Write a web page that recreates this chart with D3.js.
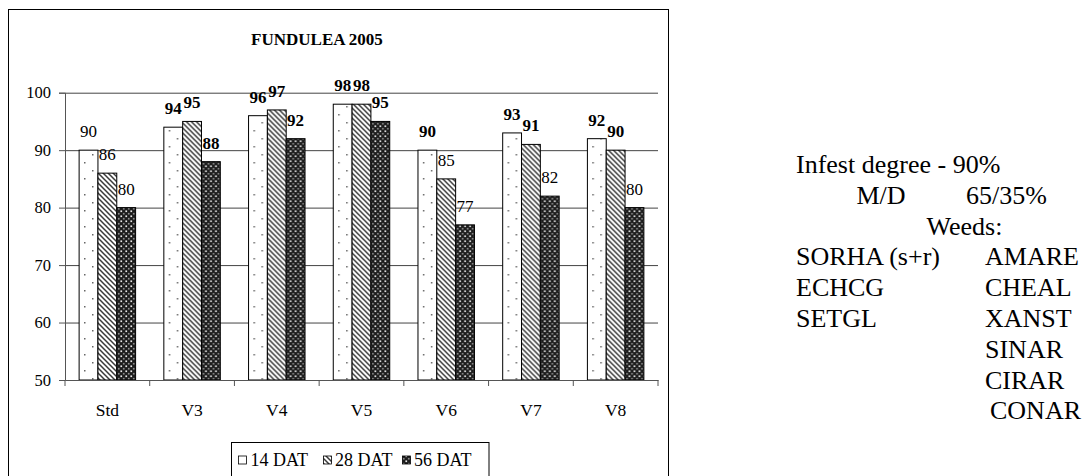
<!DOCTYPE html>
<html>
<head>
<meta charset="utf-8">
<script src="https://cdn.jsdelivr.net/npm/d3@7"></script>
<style>
  html, body { margin: 0; padding: 0; background: #fff; }
  svg, svg text { font-family: "Liberation Serif", "Times New Roman", Times, "DejaVu Serif", serif; }
</style>
</head>
<body>
<svg id="chart" width="1082" height="476"></svg>
<script>
// ---- data ----
const categories = ["Std", "V3", "V4", "V5", "V6", "V7", "V8"];
const seriesNames = ["14 DAT", "28 DAT", "56 DAT"];
const dat14 = [90, 94, 96, 98, 90, 93, 92];
const dat28 = [86, 95, 97, 98, 85, 91, 90];
const dat56 = [80, 88, 92, 95, 77, 82, 80];
// which value labels are printed in bold (per series)
const bold14 = [false, true, true, true, true, true, true];
const bold28 = [false, true, true, true, false, true, true];
const bold56 = [false, true, true, true, false, false, false];
const yTicks = [50, 60, 70, 80, 90, 100];
const chartTitle = "FUNDULEA 2005";
const sideLeft = ["Infest degree - 90%"];
const sideWeedsLeft = ["SORHA (s+r)", "ECHCG", "SETGL"];
const sideWeedsRight = ["AMARE", "CHEAL", "XANST", "SINAR", "CIRAR", "CONAR"];

const seriesValues = [dat14, dat28, dat56];
const seriesBold = [bold14, bold28, bold56];
const FONT = '"Liberation Serif", "Times New Roman", Times, "DejaVu Serif", serif';

const svg = d3.select("#chart");
const defs = svg.append("defs");

// ---- patterns ----
const p1 = defs.append("pattern").attr("id", "pat0").attr("patternUnits", "userSpaceOnUse")
  .attr("width", 16).attr("height", 16).attr("x", 3).attr("y", 2);
p1.append("rect").attr("width", 16).attr("height", 16).attr("fill", "#fff");
p1.append("rect").attr("x", 0).attr("y", 0).attr("width", 1.5).attr("height", 1.5).attr("fill", "#666");
p1.append("rect").attr("x", 8).attr("y", 8).attr("width", 1.5).attr("height", 1.5).attr("fill", "#666");

const p2 = defs.append("pattern").attr("id", "pat1").attr("patternUnits", "userSpaceOnUse")
  .attr("width", 5).attr("height", 5);
p2.append("rect").attr("width", 5).attr("height", 5).attr("fill", "#fff");
p2.append("path").attr("d", "M-1,-1 L6,6 M-1,4 L1,6 M4,-1 L6,1")
  .attr("stroke", "#3a3a3a").attr("stroke-width", 1.5);

const p3 = defs.append("pattern").attr("id", "pat2").attr("patternUnits", "userSpaceOnUse")
  .attr("width", 5).attr("height", 5);
p3.append("rect").attr("width", 5).attr("height", 5).attr("fill", "#1c1c1c");
p3.append("rect").attr("x", 0.4).attr("y", 0.4).attr("width", 1.7).attr("height", 1.7).attr("fill", "#e8e8e8");
p3.append("rect").attr("x", 2.9).attr("y", 2.9).attr("width", 1.7).attr("height", 1.7).attr("fill", "#8a8a8a");

// ---- chart frame ----
svg.append("rect").attr("x", 8.5).attr("y", 9.5).attr("width", 660).attr("height", 480)
  .attr("fill", "#fff").attr("stroke", "#000").attr("stroke-width", 1);

svg.append("text").attr("x", 317).attr("y", 45).attr("text-anchor", "middle")
  .attr("font-family", FONT)
  .attr("font-size", 17).attr("font-weight", "bold").text(chartTitle);

// ---- scales ----
const x = d3.scaleBand().domain(categories).range([65, 658]).paddingInner(0).paddingOuter(0);
const bw = x.bandwidth();
const x1 = d3.scaleBand().domain(seriesNames).range([bw / 6, bw * 5 / 6]).padding(0);
const y = d3.scaleLinear().domain([50, 100]).range([380, 92.7]);

// gridlines
const grid = svg.append("g").attr("transform", "translate(65,0)")
  .call(d3.axisRight(y).tickValues(yTicks.filter(t => t > 50)).tickSize(658 - 65).tickFormat(""));
grid.select(".domain").remove();
grid.selectAll(".tick line").attr("stroke", "#444").attr("stroke-width", 1);

// bars
const groups = svg.append("g").selectAll("g").data(categories).join("g")
  .attr("transform", d => `translate(${x(d)},0)`);

seriesNames.forEach((s, si) => {
  groups.append("rect")
    .attr("x", x1(s))
    .attr("y", (d, i) => y(seriesValues[si][i]))
    .attr("width", x1.bandwidth())
    .attr("height", (d, i) => y(50) - y(seriesValues[si][i]))
    .attr("fill", `url(#pat${si})`)
    .attr("stroke", "#000").attr("stroke-width", 1);
});

// value labels
seriesNames.forEach((s, si) => {
  groups.append("text")
    .attr("x", x1(s) + x1.bandwidth() / 2)
    .attr("y", (d, i) => y(seriesValues[si][i]) - 13)
    .attr("text-anchor", "middle")
    .attr("font-family", FONT)
    .attr("font-size", 17)
    .attr("font-weight", (d, i) => seriesBold[si][i] ? "bold" : "normal")
    .text((d, i) => seriesValues[si][i]);
});

// y axis
const yAxis = svg.append("g").attr("transform", "translate(65,0)")
  .call(d3.axisLeft(y).tickValues(yTicks).tickSize(6).tickPadding(8));
yAxis.attr("font-family", FONT);
yAxis.select(".domain").attr("stroke", "#555");
yAxis.selectAll(".tick line").attr("stroke", "#555");
yAxis.selectAll(".tick text").attr("font-size", 16.5).attr("fill", "#000");

// x axis
const xAxis = svg.append("g").attr("transform", "translate(0,380)")
  .call(d3.axisBottom(x).tickSize(0).tickPadding(24));
xAxis.attr("font-family", FONT);
xAxis.select(".domain").attr("stroke", "#555");
xAxis.selectAll(".tick text").attr("font-size", 17.5).attr("fill", "#000");
const boundaries = categories.map(c => x(c)).concat([x.range()[1]]);
svg.append("g").selectAll("line").data(boundaries).join("line")
  .attr("x1", d => d).attr("x2", d => d).attr("y1", 380).attr("y2", 386)
  .attr("stroke", "#555");

// legend
const lg = svg.append("g").attr("font-family", FONT);
lg.append("rect").attr("x", 231.5).attr("y", 442.5).attr("width", 257.5).attr("height", 40)
  .attr("fill", "#fff").attr("stroke", "#000");
const legendSym = [238.5, 323.5, 402.5];
const legendTxt = [250.5, 335, 414];
seriesNames.forEach((s, si) => {
  lg.append("rect").attr("x", legendSym[si]).attr("y", 456).attr("width", 8).attr("height", 8)
    .attr("fill", `url(#pat${si})`).attr("stroke", "#000").attr("stroke-width", 0.8);
  lg.append("text").attr("x", legendTxt[si]).attr("y", 465.5).attr("font-size", 18).text(s);
});

// side text
const side = svg.append("g").attr("font-size", 26).attr("font-family", FONT);
const base0 = 173, step = 30.8;
side.append("text").attr("x", 796).attr("y", base0).text(sideLeft[0]);
side.append("text").attr("x", 856.5).attr("y", base0 + step).text("M/D");
side.append("text").attr("x", 966).attr("y", base0 + step).text("65/35%");
side.append("text").attr("x", 926.5).attr("y", base0 + 2 * step).text("Weeds:");
sideWeedsLeft.forEach((w, i) => {
  side.append("text").attr("x", 796).attr("y", base0 + (3 + i) * step).text(w);
});
sideWeedsRight.forEach((w, i) => {
  side.append("text").attr("x", i === 5 ? 990 : 985).attr("y", base0 + (3 + i) * step).text(w);
});
</script>
</body>
</html>
